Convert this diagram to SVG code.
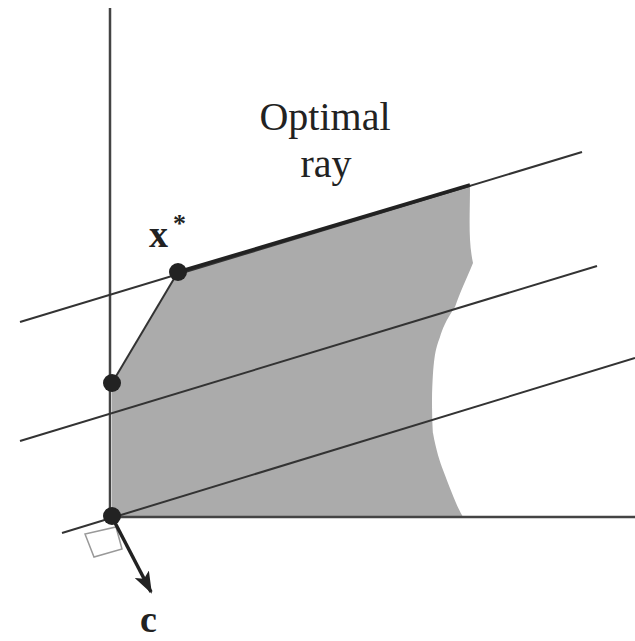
<svg xmlns="http://www.w3.org/2000/svg" width="635" height="641" viewBox="0 0 635 641">
<style>
.ln{stroke:#333;stroke-width:2;fill:none}
.ax{stroke:#444;stroke-width:2.5;fill:none}
.dot{fill:#222}
.lbl{font-family:"Liberation Serif",serif;fill:#222}
.b{font-weight:bold}
</style>
<defs>
<marker id="ah" markerWidth="22" markerHeight="16" refX="20" refY="8" orient="auto" markerUnits="userSpaceOnUse" viewBox="0 0 22 16">
<path d="M0,0 L22,8 L0,16 L5,8 Z" fill="#222"/>
</marker>
</defs>
<rect width="635" height="641" fill="#fff"/>
<g id="region">
<path d="M112,517 L112,383 L178,272 L470,185 C470,215 468,240 473,263 C466,280 460,292 455,307 C446,320 442,330 440,337 C435,350 433,360 432,400 C432,420 433,433 433,433 C436,450 440,462 443,470 C450,488 456,505 463,517 Z" fill="#ababab"/>
</g>
<g id="connectors">
<line class="ax" x1="110" y1="8" x2="110" y2="518"/>
<line class="ax" x1="110" y1="517" x2="635" y2="517"/>
<line class="ln" x1="20" y1="322" x2="582" y2="152"/>
<line class="ln" x1="20" y1="441" x2="597" y2="266"/>
<line class="ln" x1="62" y1="533" x2="635" y2="358"/>
<line class="ln" x1="112" y1="383" x2="178" y2="272"/>
<line x1="178" y1="272" x2="470" y2="185" stroke="#222" stroke-width="3.5"/>
<polygon points="85,534 94,557 122,549 116,527" fill="none" stroke="#999" stroke-width="1.5"/>
<line x1="112" y1="517" x2="151" y2="592" stroke="#222" stroke-width="3.5" marker-end="url(#ah)"/>
</g>
<g id="origin"><circle class="dot" cx="112" cy="516" r="9"/></g>
<g id="vertex2"><circle class="dot" cx="112" cy="383" r="9"/></g>
<g id="xstar">
<circle class="dot" cx="178" cy="272" r="9"/>
<text class="lbl b" x="149" y="247" font-size="38">x</text>
<text class="lbl b" x="173" y="232" font-size="26">*</text>
</g>
<g id="label-ray">
<text class="lbl" x="325" y="130" font-size="40" text-anchor="middle">Optimal</text>
<text class="lbl" x="326" y="177" font-size="40" text-anchor="middle">ray</text>
</g>
<g id="label-c">
<text class="lbl b" x="140" y="632" font-size="38">c</text>
</g>
</svg>
